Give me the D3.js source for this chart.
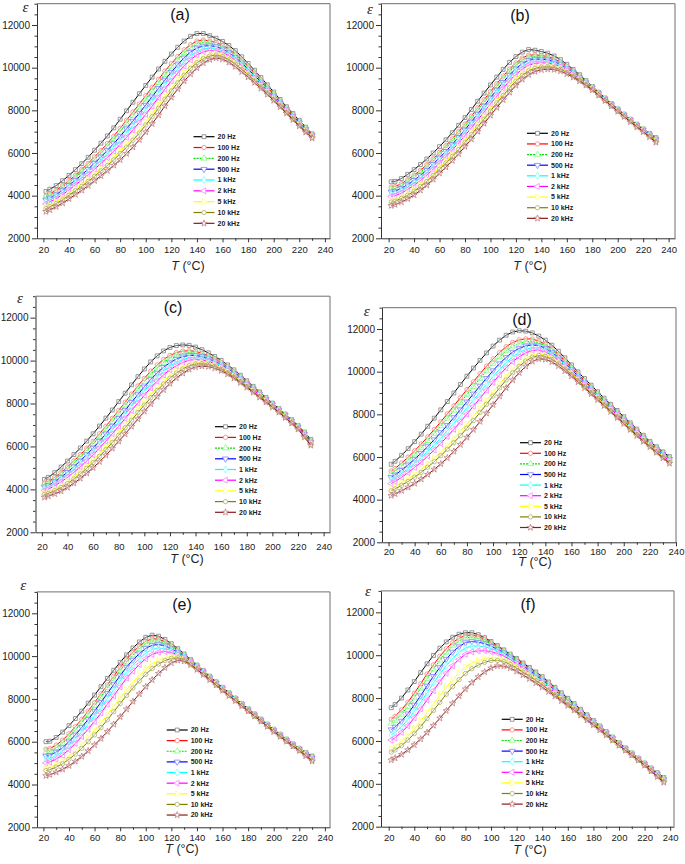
<!DOCTYPE html>
<html><head><meta charset="utf-8">
<script src="https://cdn.jsdelivr.net/npm/d3@7"></script>
<style>body{margin:0;background:#fff;}svg{display:block;}</style>
</head><body>
<script>
// ---------- DATA ----------
const seriesNames = ["20 Hz","100 Hz","200 Hz","500 Hz","1 kHz","2 kHz","5 kHz","10 kHz","20 kHz"];
const panelLabels = ["(a)","(b)","(c)","(d)","(e)","(f)"];
const yTicks = [2000,4000,6000,8000,10000,12000];
const xTicks = [20,40,60,80,100,120,140,160,180,200,220,240];

const tempsShort = [22,25,30,35,40,45,50,55,60,65,70,75,80,85,90,95,100,105,110,115,120,125,130,135,140,145,150,155,160,165,170,175,180,185,190,195,200,205,210,215,220,225,230];
const tempsLong  = [22,25,30,35,40,45,50,55,60,65,70,75,80,85,90,95,100,105,110,115,120,125,130,135,140,145,150,155,160,165,170,175,180,185,190,195,200,205,210,215,220,225,230,235];

const epsA = [
[4200,4300,4470,4700,4950,5220,5500,5800,6130,6460,6800,7180,7580,7980,8380,8780,9170,9560,9940,10300,10640,10960,11250,11470,11600,11600,11500,11380,11230,11040,10800,10510,10200,9880,9540,9200,8860,8510,8170,7850,7530,7210,6900],
[3990,4090,4250,4470,4710,4960,5230,5510,5820,6120,6440,6790,7160,7540,7920,8300,8690,9080,9460,9840,10190,10530,10840,11080,11250,11300,11250,11180,11050,10870,10640,10360,10060,9750,9430,9100,8770,8430,8100,7790,7470,7160,6860],
[3920,4010,4170,4390,4620,4870,5130,5400,5700,6000,6310,6650,7010,7380,7750,8130,8510,8900,9290,9670,10030,10370,10690,10940,11120,11190,11160,11100,10980,10800,10580,10300,10010,9710,9390,9070,8740,8410,8080,7760,7450,7140,6840],
[3800,3890,4050,4260,4490,4730,4980,5240,5530,5820,6120,6440,6780,7140,7500,7870,8250,8640,9030,9420,9790,10140,10460,10730,10920,11020,11030,10990,10880,10710,10490,10220,9930,9640,9330,9010,8690,8360,8040,7730,7420,7110,6820],
[3710,3800,3960,4150,4380,4610,4850,5110,5390,5660,5950,6270,6590,6940,7290,7660,8030,8420,8820,9210,9580,9940,10270,10550,10760,10880,10920,10900,10800,10630,10410,10150,9870,9580,9280,8970,8650,8330,8010,7700,7390,7090,6800],
[3610,3700,3860,4050,4270,4500,4730,4980,5240,5510,5790,6090,6400,6730,7080,7440,7810,8200,8600,9000,9380,9750,10080,10370,10600,10740,10810,10800,10720,10550,10340,10080,9800,9520,9220,8920,8610,8290,7980,7670,7360,7060,6780],
[3460,3540,3700,3880,4090,4310,4530,4760,5020,5270,5530,5810,6100,6410,6740,7100,7460,7850,8260,8660,9060,9430,9780,10090,10340,10520,10630,10660,10580,10420,10220,9960,9700,9430,9140,8850,8550,8240,7930,7620,7320,7020,6740],
[3390,3480,3630,3810,4020,4230,4440,4670,4910,5160,5410,5680,5970,6270,6600,6940,7310,7700,8100,8520,8910,9290,9650,9970,10230,10430,10550,10590,10520,10370,10160,9920,9660,9390,9110,8820,8520,8210,7910,7600,7300,7010,6730],
[3250,3330,3480,3650,3850,4050,4250,4470,4700,4930,5170,5420,5680,5970,6280,6620,6980,7370,7780,8200,8610,9000,9370,9700,9990,10220,10380,10450,10400,10250,10050,9810,9560,9300,9030,8750,8460,8160,7860,7560,7260,6970,6700]
];

const epsB = [
[4650,4670,4800,5000,5220,5460,5720,6000,6300,6620,6950,7300,7660,8040,8430,8810,9190,9560,9920,10250,10520,10730,10850,10820,10760,10680,10550,10380,10160,9920,9670,9400,9120,8850,8580,8320,8070,7820,7580,7350,7130,6920,6720],
[4400,4430,4560,4750,4960,5190,5450,5730,6030,6340,6660,7010,7360,7730,8120,8500,8880,9250,9610,9940,10220,10450,10590,10600,10570,10520,10410,10260,10060,9840,9600,9350,9080,8820,8550,8290,8040,7790,7550,7320,7100,6880,6670],
[4310,4340,4470,4660,4860,5100,5350,5630,5930,6240,6560,6900,7250,7620,8000,8380,8760,9130,9490,9830,10120,10350,10500,10520,10500,10460,10360,10220,10030,9810,9580,9330,9070,8810,8540,8280,8030,7780,7540,7310,7090,6870,6650],
[4180,4210,4340,4520,4720,4950,5200,5480,5780,6080,6400,6740,7090,7460,7830,8210,8590,8960,9320,9660,9950,10190,10350,10400,10400,10370,10280,10150,9970,9770,9540,9300,9050,8790,8530,8270,8020,7770,7530,7300,7070,6850,6630],
[4070,4100,4230,4400,4600,4830,5080,5360,5650,5950,6270,6600,6950,7320,7690,8070,8450,8820,9180,9520,9820,10060,10240,10300,10310,10290,10220,10100,9930,9730,9510,9280,9030,8770,8510,8260,8010,7760,7520,7280,7060,6830,6610],
[3960,3990,4120,4290,4480,4710,4960,5230,5530,5830,6140,6470,6820,7180,7550,7920,8300,8670,9030,9380,9680,9940,10120,10200,10230,10220,10150,10050,9880,9690,9480,9260,9020,8760,8500,8250,8000,7750,7510,7270,7040,6820,6580],
[3780,3820,3940,4100,4290,4520,4760,5030,5330,5620,5930,6260,6600,6960,7320,7700,8080,8450,8810,9150,9470,9730,9930,10040,10090,10100,10050,9960,9810,9630,9440,9220,8990,8730,8480,8230,7980,7730,7490,7250,7020,6790,6550],
[3700,3740,3870,4020,4210,4430,4670,4950,5240,5530,5840,6160,6500,6860,7220,7590,7970,8340,8700,9050,9370,9640,9850,9970,10030,10040,10010,9920,9780,9610,9420,9200,8980,8720,8470,8220,7970,7720,7480,7240,7010,6780,6530],
[3530,3580,3700,3850,4030,4250,4490,4760,5050,5340,5640,5960,6300,6650,7010,7380,7760,8130,8490,8840,9170,9450,9670,9820,9900,9930,9910,9840,9710,9550,9370,9170,8950,8700,8450,8200,7950,7700,7460,7220,6990,6750,6500]
];

const epsC = [
[4470,4560,4780,5040,5320,5620,5930,6250,6590,6950,7320,7700,8090,8480,8870,9250,9610,9940,10220,10450,10610,10700,10730,10710,10630,10510,10360,10190,10010,9800,9570,9320,9060,8800,8540,8280,8020,7770,7510,7250,6980,6670,6330],
[4290,4370,4560,4790,5050,5330,5620,5920,6240,6590,6940,7310,7680,8060,8440,8820,9170,9510,9800,10050,10240,10370,10440,10460,10430,10340,10220,10070,9900,9710,9480,9240,8990,8740,8490,8230,7980,7730,7470,7210,6940,6620,6270],
[4220,4300,4480,4700,4950,5220,5500,5800,6120,6450,6800,7160,7540,7910,8290,8660,9020,9350,9650,9910,10110,10250,10330,10370,10350,10280,10170,10030,9870,9670,9450,9220,8970,8720,8470,8210,7960,7720,7460,7200,6930,6600,6250],
[4120,4190,4360,4570,4800,5060,5330,5620,5930,6250,6590,6950,7310,7680,8060,8420,8780,9120,9420,9690,9900,10070,10180,10240,10240,10190,10090,9960,9810,9620,9410,9170,8930,8680,8440,8190,7940,7690,7440,7180,6900,6570,6210],
[4030,4100,4270,4460,4680,4930,5190,5470,5770,6090,6420,6770,7130,7490,7860,8230,8580,8920,9230,9510,9740,9920,10040,10130,10150,10110,10030,9910,9760,9580,9370,9140,8900,8650,8410,8170,7920,7680,7420,7160,6890,6550,6180],
[3950,4010,4170,4350,4560,4800,5050,5320,5610,5920,6250,6590,6940,7300,7670,8030,8380,8730,9040,9330,9570,9760,9910,10020,10050,10030,9960,9860,9710,9530,9330,9100,8870,8630,8390,8140,7900,7660,7410,7150,6870,6520,6160],
[3820,3870,4010,4170,4360,4580,4820,5080,5360,5660,5970,6300,6650,7000,7360,7710,8070,8410,8740,9040,9300,9520,9700,9840,9910,9910,9860,9770,9640,9470,9270,9050,8820,8580,8350,8110,7870,7630,7380,7120,6840,6480,6110],
[3760,3810,3940,4090,4270,4490,4720,4980,5250,5540,5850,6180,6520,6870,7220,7580,7930,8270,8610,8910,9180,9420,9610,9760,9840,9860,9820,9730,9600,9430,9240,9020,8800,8560,8330,8090,7860,7620,7370,7110,6830,6470,6090],
[3630,3680,3790,3920,4090,4290,4510,4750,5010,5290,5590,5910,6240,6580,6930,7280,7630,7980,8320,8640,8930,9190,9410,9590,9700,9740,9720,9650,9530,9370,9180,8970,8750,8520,8290,8060,7830,7590,7340,7080,6800,6430,6050]
];

const epsD = [
[5660,5800,6080,6390,6720,7070,7440,7820,8210,8600,9000,9400,9790,10170,10530,10880,11200,11480,11710,11860,11920,11900,11820,11670,11480,11240,10960,10650,10320,9990,9680,9370,9060,8760,8470,8180,7890,7600,7310,7020,6730,6480,6240,6020],
[5340,5460,5720,5990,6290,6610,6940,7290,7650,8020,8400,8780,9160,9530,9900,10260,10600,10900,11170,11370,11490,11540,11530,11440,11280,11070,10810,10520,10200,9890,9580,9280,8980,8680,8390,8110,7820,7530,7240,6960,6670,6420,6180,5950],
[5220,5340,5580,5850,6130,6440,6760,7100,7450,7810,8180,8550,8930,9300,9670,10030,10380,10690,10970,11190,11330,11410,11420,11350,11210,11010,10750,10470,10160,9850,9550,9250,8950,8650,8370,8080,7790,7500,7220,6930,6650,6400,6150,5920],
[5040,5160,5380,5630,5900,6180,6490,6810,7150,7490,7850,8220,8590,8960,9330,9690,10050,10380,10670,10920,11090,11210,11260,11220,11100,10910,10670,10390,10100,9790,9500,9200,8900,8610,8320,8040,7750,7470,7180,6900,6620,6370,6120,5890],
[4900,5000,5220,5450,5700,5970,6270,6570,6890,7230,7580,7930,8300,8670,9040,9410,9770,10110,10430,10690,10900,11040,11120,11110,11010,10830,10600,10330,10040,9750,9450,9160,8860,8570,8290,8000,7720,7430,7150,6870,6600,6340,6090,5850],
[4750,4850,5050,5270,5510,5760,6040,6330,6640,6960,7300,7650,8010,8380,8750,9130,9500,9850,10180,10470,10700,10880,10990,11010,10920,10760,10530,10270,9990,9700,9410,9120,8820,8540,8250,7970,7690,7400,7120,6840,6570,6310,6060,5820],
[4510,4610,4790,4980,5190,5420,5680,5950,6240,6540,6860,7200,7550,7920,8290,8670,9060,9430,9780,10110,10380,10610,10780,10840,10780,10630,10420,10170,9910,9620,9340,9050,8760,8480,8200,7920,7630,7350,7070,6790,6530,6270,6010,5770],
[4410,4500,4670,4850,5050,5280,5520,5780,6060,6360,6670,7000,7350,7710,8090,8470,8860,9240,9610,9950,10250,10500,10680,10760,10720,10580,10370,10130,9870,9590,9310,9020,8740,8450,8170,7890,7610,7330,7050,6770,6510,6250,5990,5750],
[4190,4270,4420,4580,4760,4960,5180,5420,5680,5960,6260,6580,6920,7280,7660,8050,8450,8850,9240,9610,9950,10250,10480,10600,10580,10460,10270,10040,9790,9520,9240,8960,8680,8400,8120,7840,7560,7280,7000,6730,6470,6210,5950,5700]
];

const epsE = [
[6000,6020,6200,6450,6750,7080,7430,7800,8180,8570,8960,9340,9710,10060,10380,10660,10880,10980,10930,10780,10580,10350,10100,9840,9580,9320,9060,8800,8540,8290,8040,7790,7540,7300,7060,6820,6580,6350,6120,5900,5690,5500,5330],
[5650,5680,5840,6070,6370,6700,7050,7430,7830,8240,8650,9060,9470,9850,10180,10460,10690,10810,10790,10670,10480,10280,10040,9790,9530,9280,9020,8770,8510,8260,8010,7760,7520,7280,7040,6800,6560,6330,6100,5880,5670,5470,5280],
[5520,5550,5710,5930,6220,6550,6900,7280,7680,8090,8510,8920,9330,9720,10050,10340,10580,10700,10700,10610,10430,10240,10020,9770,9520,9260,9010,8750,8500,8250,8000,7750,7510,7270,7030,6790,6550,6320,6090,5870,5660,5450,5260],
[5330,5370,5520,5720,6000,6320,6670,7040,7430,7840,8260,8670,9090,9490,9820,10110,10360,10510,10540,10480,10340,10180,9980,9750,9490,9240,8990,8730,8480,8230,7990,7740,7490,7250,7010,6770,6530,6300,6070,5850,5640,5430,5230],
[5170,5210,5350,5550,5820,6120,6460,6820,7200,7600,8010,8430,8840,9250,9580,9880,10140,10310,10370,10360,10260,10130,9950,9720,9470,9220,8970,8720,8460,8220,7970,7730,7480,7240,7000,6760,6520,6290,6060,5840,5630,5420,5210],
[5010,5050,5190,5370,5630,5920,6240,6590,6950,7340,7750,8150,8560,8970,9300,9610,9880,10080,10180,10210,10160,10070,9920,9690,9450,9200,8960,8700,8450,8200,7960,7720,7470,7230,6990,6750,6510,6280,6050,5830,5620,5400,5180],
[4760,4800,4930,5090,5320,5580,5860,6180,6520,6880,7260,7650,8040,8430,8780,9100,9400,9640,9810,9930,9980,9970,9850,9650,9420,9170,8930,8680,8420,8180,7940,7700,7450,7210,6970,6730,6490,6260,6030,5810,5600,5380,5140],
[4650,4690,4810,4970,5180,5420,5690,6000,6320,6660,7020,7400,7780,8160,8510,8840,9150,9420,9630,9790,9890,9920,9830,9630,9400,9160,8920,8660,8410,8170,7930,7690,7450,7210,6970,6730,6490,6260,6030,5810,5600,5360,5130],
[4410,4460,4570,4710,4880,5080,5310,5570,5850,6150,6470,6810,7160,7520,7880,8230,8570,8890,9190,9460,9680,9800,9760,9590,9370,9130,8890,8640,8390,8150,7910,7670,7430,7190,6950,6710,6470,6240,6010,5790,5580,5340,5090]
];

const epsF = [
[7550,7700,8000,8380,8770,9190,9600,9990,10330,10620,10840,10980,11050,11050,10960,10820,10640,10450,10250,10050,9850,9640,9430,9220,9000,8750,8500,8250,7990,7740,7480,7220,6960,6700,6440,6180,5920,5680,5440,5200,4970,4740,4520,4300],
[7010,7150,7450,7810,8220,8670,9120,9550,9950,10300,10590,10790,10920,10940,10870,10740,10580,10400,10210,10010,9800,9580,9370,9150,8930,8670,8420,8170,7920,7670,7420,7170,6910,6660,6400,6150,5890,5650,5420,5180,4950,4710,4480,4250],
[6820,6950,7240,7600,8010,8460,8910,9350,9760,10130,10430,10660,10810,10840,10780,10680,10530,10360,10180,9980,9770,9550,9340,9120,8890,8640,8390,8140,7890,7650,7400,7150,6890,6640,6390,6140,5880,5640,5410,5170,4940,4700,4460,4230],
[6530,6650,6930,7270,7680,8110,8570,9020,9430,9820,10150,10400,10590,10640,10610,10540,10420,10280,10120,9920,9720,9500,9290,9070,8840,8590,8350,8100,7850,7610,7360,7120,6870,6620,6370,6120,5870,5630,5390,5160,4920,4680,4440,4200],
[6280,6400,6660,6990,7380,7810,8250,8700,9120,9510,9850,10130,10340,10420,10430,10390,10310,10190,10050,9860,9660,9450,9230,9020,8790,8550,8310,8060,7810,7580,7330,7090,6850,6600,6350,6100,5850,5620,5380,5150,4910,4660,4420,4180],
[6040,6150,6400,6710,7080,7490,7910,8350,8770,9160,9510,9810,10040,10160,10200,10210,10160,10090,9960,9790,9590,9390,9180,8960,8740,8500,8270,8020,7780,7550,7310,7070,6820,6580,6340,6090,5840,5610,5370,5140,4900,4650,4400,4160],
[5650,5750,5970,6240,6570,6930,7320,7720,8120,8500,8860,9180,9450,9630,9760,9850,9890,9870,9790,9640,9470,9270,9070,8870,8650,8420,8190,7960,7730,7500,7260,7030,6790,6550,6310,6060,5820,5590,5350,5120,4880,4620,4370,4120],
[5480,5580,5780,6040,6340,6670,7040,7420,7800,8180,8540,8860,9150,9370,9540,9670,9750,9760,9700,9570,9400,9210,9020,8820,8610,8380,8160,7930,7700,7480,7240,7010,6770,6540,6300,6050,5810,5580,5350,5120,4880,4610,4360,4100],
[5110,5200,5370,5580,5820,6090,6390,6720,7060,7410,7760,8100,8420,8720,8990,9220,9400,9500,9490,9400,9250,9080,8900,8710,8510,8300,8090,7870,7650,7430,7200,6970,6740,6510,6270,6030,5790,5560,5330,5100,4860,4590,4330,4070]
];

// ---------- LAYOUT / STYLE ----------
const FONT = "'Liberation Sans', Arial, Helvetica, sans-serif";
const panels = [
 {data:epsA, temps:tempsShort, x0:15, x1:244, left:37,  right:330, top:3.7,   bottom:238.3, lab:[180,20],   eps:[25.5,12],   leg:[193.5,136.7,10.83], tickY:253.5, title:[188,269.7]},
 {data:epsB, temps:tempsShort, x0:14, x1:245, left:381, right:675, top:3.7,   bottom:238.3, lab:[520,21],   eps:[370,13.5],  leg:[527,133.3,10.63],   tickY:253.5, title:[530,269.7]},
 {data:epsC, temps:tempsShort, x0:15, x1:245, left:35.5,right:330, top:296.2, bottom:532.3, lab:[173,313],  eps:[20,302.5],  leg:[215,426.7,10.7],    tickY:550.5, title:[187,562.7]},
 {data:epsD, temps:tempsLong,  x0:15, x1:240, left:382, right:676, top:307.7, bottom:542.3, lab:[522,324.5],eps:[366.7,316], leg:[520,442.7,10.6],    tickY:555,   title:[535,566.4]},
 {data:epsE, temps:tempsShort, x0:15, x1:244, left:37,  right:330, top:591.9, bottom:827.3, lab:[182,609.5],eps:[23.3,589.5],leg:[166.7,730,10.63],   tickY:841.5, title:[182,853]},
 {data:epsF, temps:tempsLong,  x0:14, x1:243, left:381, right:674, top:590.9, bottom:826.7, lab:[528,609.5],eps:[368,596],   leg:[501.7,719.3,10.6],  tickY:841.5, title:[530,854]}
];

const styles = [
 {color:"#000000", mark:"#808080", sym:d3.symbolSquare,   rot:0,   size:15},
 {color:"#ff0000", mark:"#ff8080", sym:d3.symbolCircle,   rot:0,   size:15},
 {color:"#00e000", mark:"#80ff80", sym:d3.symbolTriangle, rot:0,   size:16, dash:"2,1"},
 {color:"#0000ff", mark:"#8080ff", sym:d3.symbolTriangle, rot:180, size:16},
 {color:"#00ffff", mark:"#80ffff", sym:d3.symbolDiamond,  rot:0,   size:15},
 {color:"#ff00ff", mark:"#ff80ff", sym:d3.symbolTriangle, rot:-90, size:16},
 {color:"#ffff00", mark:"#ffff80", sym:d3.symbolTriangle, rot:90,  size:16},
 {color:"#808000", mark:"#b0b070", sym:d3.symbolCircle,   rot:0,   size:15},
 {color:"#8b1a1a", mark:"#c08080", sym:d3.symbolStar,     rot:0,   size:13}
];

const svg = d3.select("body").append("svg").attr("width",685).attr("height",864)
  .style("font-family", FONT);

const yMinor = d3.range(2000, 13001, 500).filter(v => v % 2000 !== 0);
const xMinor = d3.range(30, 240, 20);
const fmt = d3.format("d");

panels.forEach((P, pi) => {
  const x = d3.scaleLinear().domain([P.x0, P.x1]).range([P.left, P.right]);
  const y = d3.scaleLinear().domain([2000, 13000]).range([P.bottom, P.top]);
  const g = svg.append("g");

  g.append("path")
    .attr("d", `M${P.left},${P.top}H${P.right}V${P.bottom}`)
    .attr("fill","none").attr("stroke","#6e6e6e").attr("stroke-width",1);

  const ya = g.append("g").attr("transform",`translate(${P.left},0)`)
    .call(d3.axisLeft(y).tickValues(yTicks).tickFormat(fmt).tickSize(5).tickPadding(2).tickSizeOuter(0));
  ya.select(".domain").attr("stroke","#333");
  ya.selectAll(".tick line").attr("stroke","#333");
  ya.selectAll("text").attr("font-size",10).attr("fill","#222").attr("font-family",FONT);
  const yam = g.append("g").attr("transform",`translate(${P.left},0)`)
    .call(d3.axisLeft(y).tickValues(yMinor).tickSize(2.5).tickFormat(""));
  yam.select(".domain").remove();
  yam.selectAll(".tick line").attr("stroke","#333");

  const xa = g.append("g").attr("transform",`translate(0,${P.bottom})`)
    .call(d3.axisBottom(x).tickValues(xTicks).tickFormat(fmt).tickSize(4).tickSizeOuter(0));
  xa.select(".domain").attr("stroke","#333");
  xa.selectAll(".tick line").attr("stroke","#333");
  xa.selectAll("text").attr("font-size",9.5).attr("fill","#222").attr("font-family",FONT)
    .attr("y", P.tickY - P.bottom).attr("dy", null);
  const xam = g.append("g").attr("transform",`translate(0,${P.bottom})`)
    .call(d3.axisBottom(x).tickValues(xMinor).tickSize(2.5).tickFormat(""));
  xam.select(".domain").remove();
  xam.selectAll(".tick line").attr("stroke","#333");

  const t = g.append("text").attr("x",P.title[0]).attr("y",P.title[1])
    .attr("text-anchor","middle").attr("font-size",12.5).attr("fill","#222");
  t.append("tspan").attr("font-style","italic").text("T");
  t.append("tspan").text(" (°C)");

  g.append("text").attr("x",P.eps[0]).attr("y",P.eps[1]).attr("text-anchor","middle")
    .attr("font-family","'Liberation Serif','Times New Roman',serif").attr("font-style","italic")
    .attr("font-size",15).attr("fill","#222").text("ε");

  g.append("text").attr("x",P.lab[0]).attr("y",P.lab[1]).attr("text-anchor","middle")
    .attr("font-size",16).attr("fill","#111").text(panelLabels[pi]);

  const clipId = "clip"+pi;
  svg.append("clipPath").attr("id",clipId).append("rect")
    .attr("x",P.left).attr("y",P.top).attr("width",P.right-P.left).attr("height",P.bottom-P.top);
  const plot = g.append("g").attr("clip-path",`url(#${clipId})`);
  const line = d3.line().x(d => x(d[0])).y(d => y(d[1]));
  P.data.forEach((vals, si) => {
    const S = styles[si];
    const pts = P.temps.map((tt,i) => [tt, vals[i]]).filter(d => d[1] != null);
    plot.append("path").datum(pts).attr("d", line)
      .attr("fill","none").attr("stroke",S.color).attr("stroke-width",1)
      .attr("stroke-dasharray", S.dash || null);
    const sg = d3.symbol().type(S.sym).size(S.size);
    plot.selectAll(null).data(pts).join("path")
      .attr("d", sg)
      .attr("transform", d => `translate(${x(d[0])},${y(d[1])}) rotate(${S.rot})`)
      .attr("fill","#fff").attr("fill-opacity",0.35)
      .attr("stroke",S.mark).attr("stroke-width",0.8);
  });

  const [lx, ly, ld] = P.leg;
  seriesNames.forEach((name, si) => {
    const S = styles[si];
    const yy = ly + si*ld;
    g.append("line").attr("x1",lx).attr("x2",lx+21).attr("y1",yy).attr("y2",yy)
      .attr("stroke",S.color).attr("stroke-width",1.2).attr("stroke-dasharray", S.dash || null);
    g.append("path").attr("d", d3.symbol().type(S.sym).size(S.size)())
      .attr("transform",`translate(${lx+10.5},${yy}) rotate(${S.rot})`)
      .attr("fill","#fff").attr("stroke",S.mark).attr("stroke-width",0.8);
    g.append("text").attr("x",lx+24).attr("y",yy+2.4).attr("font-size",7)
      .attr("font-weight","bold").attr("fill","#222").text(name);
  });
});
</script>
</body></html>
